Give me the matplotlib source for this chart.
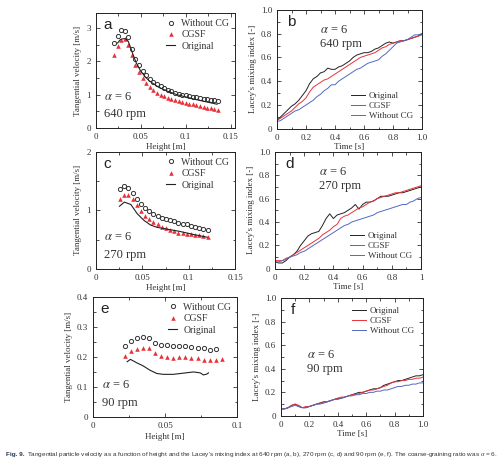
import numpy as np
import matplotlib
matplotlib.use('Agg')
import matplotlib.pyplot as plt
from matplotlib.ticker import MultipleLocator

plt.rcParams['font.family'] = ['Liberation Serif', 'DejaVu Serif']
plt.rcParams['mathtext.fontset'] = 'stix'

TXT = '#333333'
RED = '#e8323a'
BLUE = '#5468c0'
BLK = '#222222'

# ---- tangential velocity, 640 rpm (a)
h_a = [0.020, 0.024, 0.028, 0.032, 0.036, 0.040, 0.044, 0.048, 0.052, 0.056,
       0.060, 0.064, 0.068, 0.072, 0.076, 0.080, 0.084, 0.088, 0.092, 0.096,
       0.100, 0.104, 0.108, 0.112, 0.116, 0.120, 0.124, 0.128, 0.132, 0.136]
wocg_a = [2.55, 2.76, 2.94, 2.90, 2.72, 2.38, 2.08, 1.88, 1.72, 1.58,
          1.47, 1.38, 1.31, 1.25, 1.19, 1.14, 1.10, 1.06, 1.03, 1.00,
          0.98, 0.96, 0.94, 0.92, 0.90, 0.88, 0.86, 0.85, 0.83, 0.82]
cgsf_a = [2.20, 2.45, 2.65, 2.67, 2.50, 2.20, 1.90, 1.68, 1.50, 1.36,
          1.24, 1.14, 1.06, 1.00, 0.95, 0.91, 0.87, 0.84, 0.81, 0.78,
          0.76, 0.73, 0.71, 0.68, 0.66, 0.64, 0.61, 0.59, 0.56, 0.54]
h_orig_a = [0.024, 0.027, 0.030, 0.033, 0.036, 0.039, 0.042, 0.045, 0.050, 0.055,
            0.060, 0.070, 0.080, 0.090, 0.100, 0.110, 0.120, 0.135]
orig_a = [2.55, 2.65, 2.68, 2.68, 2.60, 2.38, 2.15, 1.95, 1.70, 1.53,
          1.40, 1.22, 1.10, 1.00, 0.93, 0.86, 0.80, 0.71]

# ---- tangential velocity, 270 rpm (c)
h_c = [0.0260, 0.0305, 0.0350, 0.0395, 0.0440, 0.0485, 0.0530, 0.0575, 0.0620, 0.0665, 0.0710,
       0.0755, 0.0800, 0.0845, 0.0890, 0.0935, 0.0980, 0.1025, 0.1070, 0.1115, 0.1160, 0.1205]
wocg_c = [1.36, 1.41, 1.38, 1.30, 1.19, 1.11, 1.04, 0.99, 0.94, 0.90, 0.87,
          0.85, 0.83, 0.81, 0.79, 0.77, 0.76, 0.74, 0.72, 0.70, 0.68, 0.67]
cgsf_c = [1.20, 1.27, 1.26, 1.19, 1.09, 0.99, 0.91, 0.85, 0.80, 0.76, 0.72,
          0.69, 0.66, 0.64, 0.62, 0.61, 0.60, 0.59, 0.58, 0.57, 0.56, 0.54]
h_orig_c = [0.0253, 0.0306, 0.0376, 0.0446, 0.0516, 0.0587, 0.0657, 0.0762, 0.0903, 0.1043, 0.1201]
orig_c = [1.07, 1.14, 1.10, 0.94, 0.83, 0.75, 0.71, 0.68, 0.64, 0.59, 0.54]

# ---- tangential velocity, 90 rpm (e)
h_e = [0.0222, 0.0264, 0.0306, 0.0348, 0.0390, 0.0432, 0.0474, 0.0516, 0.0558,
       0.0600, 0.0642, 0.0684, 0.0726, 0.0768, 0.0810, 0.0852, 0.0894]
wocg_e = [0.235, 0.254, 0.263, 0.265, 0.264, 0.248, 0.241, 0.239, 0.236,
          0.235, 0.235, 0.232, 0.231, 0.229, 0.223, 0.225]
cgsf_e = [0.203, 0.220, 0.226, 0.230, 0.230, 0.213, 0.203, 0.200, 0.198,
          0.199, 0.199, 0.198, 0.198, 0.191, 0.189, 0.189, 0.192]
h_orig_e = [0.0237, 0.0260, 0.0302, 0.0349, 0.0395, 0.0442, 0.0488, 0.0558,
            0.0628, 0.0698, 0.0744, 0.0767, 0.0791, 0.0802]
orig_e = [0.184, 0.192, 0.181, 0.170, 0.156, 0.145, 0.142, 0.142,
          0.146, 0.150, 0.147, 0.140, 0.143, 0.147]

# ---- Lacey's mixing index
t = [0.0, 0.025, 0.05, 0.075, 0.1, 0.125, 0.15, 0.175, 0.2, 0.225, 0.25, 0.275, 0.3, 0.325,
     0.35, 0.375, 0.4, 0.425, 0.45, 0.475, 0.5, 0.525, 0.55, 0.575, 0.6, 0.625, 0.65, 0.675,
     0.7, 0.725, 0.75, 0.775, 0.8, 0.825, 0.85, 0.875, 0.9, 0.925, 0.95, 0.975, 1.0]
b_orig = [0.07, 0.10, 0.13, 0.16, 0.19, 0.21, 0.24, 0.28, 0.32, 0.38, 0.42, 0.44, 0.47, 0.48,
          0.51, 0.50, 0.50, 0.52, 0.53, 0.55, 0.57, 0.60, 0.62, 0.63, 0.64, 0.64, 0.65, 0.67,
          0.68, 0.70, 0.72, 0.73, 0.72, 0.73, 0.74, 0.74, 0.75, 0.76, 0.77, 0.78, 0.80]
b_cgsf = [0.07, 0.09, 0.11, 0.13, 0.15, 0.18, 0.21, 0.23, 0.26, 0.31, 0.35, 0.37, 0.39, 0.41,
          0.42, 0.44, 0.46, 0.48, 0.50, 0.52, 0.54, 0.56, 0.58, 0.60, 0.61, 0.62, 0.63, 0.64,
          0.66, 0.68, 0.69, 0.71, 0.72, 0.73, 0.74, 0.74, 0.75, 0.76, 0.77, 0.78, 0.79]
b_wocg = [0.06, 0.07, 0.09, 0.11, 0.13, 0.15, 0.16, 0.18, 0.20, 0.22, 0.24, 0.27, 0.29, 0.32,
          0.34, 0.37, 0.37, 0.40, 0.42, 0.44, 0.46, 0.48, 0.50, 0.51, 0.53, 0.55, 0.56, 0.57,
          0.58, 0.61, 0.63, 0.66, 0.69, 0.72, 0.73, 0.74, 0.75, 0.77, 0.79, 0.79, 0.80]
d_orig = [0.06, 0.05, 0.05, 0.07, 0.10, 0.12, 0.15, 0.20, 0.24, 0.28, 0.30, 0.31, 0.32, 0.37,
          0.43, 0.47, 0.43, 0.46, 0.47, 0.48, 0.50, 0.52, 0.55, 0.51, 0.55, 0.57, 0.57, 0.58,
          0.60, 0.62, 0.62, 0.62, 0.63, 0.64, 0.65, 0.65, 0.66, 0.67, 0.68, 0.69, 0.70]
d_cgsf = [0.07, 0.07, 0.07, 0.09, 0.10, 0.12, 0.14, 0.16, 0.18, 0.20, 0.22, 0.24, 0.26, 0.29,
          0.31, 0.33, 0.36, 0.38, 0.43, 0.45, 0.46, 0.48, 0.50, 0.52, 0.53, 0.55, 0.57, 0.58,
          0.60, 0.61, 0.62, 0.63, 0.64, 0.65, 0.65, 0.66, 0.67, 0.68, 0.69, 0.70, 0.71]
d_wocg = [0.06, 0.06, 0.07, 0.08, 0.10, 0.11, 0.12, 0.14, 0.15, 0.17, 0.19, 0.21, 0.23, 0.25,
          0.27, 0.29, 0.31, 0.33, 0.35, 0.37, 0.38, 0.40, 0.41, 0.42, 0.43, 0.44, 0.45, 0.46,
          0.48, 0.49, 0.50, 0.51, 0.52, 0.53, 0.54, 0.55, 0.55, 0.57, 0.58, 0.60, 0.61]
f_orig = [0.06, 0.06, 0.07, 0.09, 0.10, 0.08, 0.07, 0.07, 0.08, 0.09, 0.10, 0.11, 0.12, 0.12,
          0.13, 0.14, 0.15, 0.15, 0.16, 0.17, 0.18, 0.19, 0.20, 0.20, 0.21, 0.22, 0.23, 0.23,
          0.24, 0.26, 0.27, 0.28, 0.29, 0.30, 0.30, 0.31, 0.32, 0.33, 0.34, 0.34, 0.35]
f_cgsf = [0.06, 0.06, 0.07, 0.09, 0.10, 0.09, 0.07, 0.08, 0.08, 0.09, 0.10, 0.11, 0.11, 0.12,
          0.13, 0.14, 0.15, 0.16, 0.16, 0.17, 0.18, 0.18, 0.19, 0.20, 0.21, 0.22, 0.22, 0.23,
          0.24, 0.25, 0.26, 0.28, 0.29, 0.29, 0.30, 0.30, 0.31, 0.31, 0.32, 0.32, 0.33]
f_wocg = [0.06, 0.06, 0.07, 0.08, 0.09, 0.08, 0.07, 0.07, 0.08, 0.09, 0.10, 0.10, 0.11, 0.12,
          0.13, 0.14, 0.14, 0.15, 0.16, 0.17, 0.17, 0.18, 0.18, 0.19, 0.19, 0.20, 0.20, 0.21,
          0.21, 0.22, 0.22, 0.23, 0.24, 0.25, 0.25, 0.26, 0.26, 0.27, 0.27, 0.28, 0.28]

mix_ticks = [0, 0.2, 0.4, 0.6, 0.8, 1.0]
mix_labels = ['0', '0.2', '0.4', '0.6', '0.8', '1.0']


def style(ax, xmin, ymin):
  ax.xaxis.set_minor_locator(MultipleLocator(xmin))
  ax.yaxis.set_minor_locator(MultipleLocator(ymin))
  ax.tick_params(which='both', direction='in', top=True, right=True,
                 labelsize=6.5, colors=TXT, width=0.6)
  ax.tick_params(which='major', length=3)
  ax.tick_params(which='minor', length=1.8)
  for s in ax.spines.values():
    s.set_linewidth(0.7)
    s.set_color(BLK)


def vel_panel(ax, h, wocg, cgsf, ho, orig, letter, rpm):
  ax.plot(h[:len(wocg)], wocg, 'o', mfc='none', mec='#333333', ms=3.0, mew=0.7,
          label='Without CG')
  ax.plot(h[:len(cgsf)], cgsf, '^', color=RED, ms=3.3, mew=0, label='CGSF')
  ax.plot(ho, orig, '-', color=BLK, lw=0.8, label='Original')
  ax.legend(loc='upper right', frameon=False, fontsize=7, handlelength=1.0,
            handletextpad=0.6, labelspacing=0.25, borderaxespad=0.2,
            labelcolor=TXT)
  ax.text(0.05, 0.90, letter, transform=ax.transAxes, fontsize=11,
          family=['Liberation Sans', 'DejaVu Sans'], color=BLK, va='center')
  ax.text(0.06, 0.27, r'$\alpha$ = 6', transform=ax.transAxes, fontsize=9,
          color=TXT, va='center')
  ax.text(0.06, 0.12, rpm, transform=ax.transAxes, fontsize=9, color=TXT,
          va='center')
  ax.set_xlabel('Height [m]', fontsize=6.5, color=TXT, labelpad=2)
  ax.set_ylabel('Tangential velocity [m/s]', fontsize=6.5, color=TXT, labelpad=3)


def mix_panel(ax, o, c, w, letter, rpm, leg_loc, txt_x, txt_y, xlabels):
  ax.plot(t, o, color=BLK, lw=0.7, label='Original')
  ax.plot(t, c, color=RED, lw=0.7, label='CGSF')
  ax.plot(t, w, color=BLUE, lw=0.7, label='Without CG')
  ax.set_xlim(0, 1)
  ax.set_ylim(0, 1)
  ax.set_xticks(mix_ticks)
  ax.set_xticklabels(xlabels)
  ax.set_yticks(mix_ticks)
  ax.set_yticklabels(mix_labels)
  style(ax, 0.1, 0.1)
  ax.legend(loc=leg_loc, frameon=False, fontsize=6.5, handlelength=1.6,
            handletextpad=0.4, labelspacing=0.15, borderaxespad=0.6,
            labelcolor=TXT)
  ax.text(0.07, 0.90, letter, transform=ax.transAxes, fontsize=11,
          family=['Liberation Sans', 'DejaVu Sans'], color=BLK, va='center')
  ax.text(txt_x, txt_y, r'$\alpha$ = 6', transform=ax.transAxes,
          fontsize=9, color=TXT, va='center')
  ax.text(txt_x, txt_y - 0.12, rpm, transform=ax.transAxes,
          fontsize=9, color=TXT, va='center')
  ax.set_xlabel('Time [s]', fontsize=6.5, color=TXT, labelpad=1)
  ax.set_ylabel("Lacey's mixing index [-]", fontsize=6.5, color=TXT, labelpad=3)


fig = plt.figure(figsize=(5, 4.7), dpi=100)

ax_a = fig.add_axes([0.192, 0.728, 0.278, 0.244])
vel_panel(ax_a, h_a, wocg_a, cgsf_a, h_orig_a, orig_a, 'a', '640 rpm')
ax_a.set_xlim(0, 0.155)
ax_a.set_ylim(0, 3.45)
ax_a.set_xticks([0, 0.05, 0.1, 0.15])
ax_a.set_xticklabels(['0', '0.05', '0.1', '0.15'])
ax_a.set_yticks([0, 1, 2, 3])
style(ax_a, 0.025, 0.5)

ax_b = fig.add_axes([0.554, 0.726, 0.290, 0.253])
mix_panel(ax_b, b_orig, b_cgsf, b_wocg, 'b', '640 rpm', 'lower right', 0.30, 0.83, mix_labels)

ax_c = fig.add_axes([0.192, 0.428, 0.278, 0.249])
vel_panel(ax_c, h_c, wocg_c, cgsf_c, h_orig_c, orig_c, 'c', '270 rpm')
ax_c.set_xlim(0, 0.15)
ax_c.set_ylim(0, 2)
ax_c.set_xticks([0, 0.05, 0.1, 0.15])
ax_c.set_xticklabels(['0', '0.05', '0.1', '0.15'])
ax_c.set_yticks([0, 1, 2])
style(ax_c, 0.025, 0.5)

ax_d = fig.add_axes([0.550, 0.428, 0.292, 0.249])
mix_panel(ax_d, d_orig, d_cgsf, d_wocg, 'd', '270 rpm', 'lower right', 0.30, 0.83,
          ['0', '0.2', '0.4', '0.6', '0.8', '1'])

ax_e = fig.add_axes([0.186, 0.113, 0.288, 0.255])
vel_panel(ax_e, h_e, wocg_e, cgsf_e, h_orig_e, orig_e, 'e', '90 rpm')
ax_e.set_xlim(0, 0.1)
ax_e.set_ylim(0, 0.4)
ax_e.set_xticks([0, 0.05, 0.1])
ax_e.set_xticklabels(['0', '0.05', '0.1'])
ax_e.set_yticks([0, 0.1, 0.2, 0.3, 0.4])
ax_e.set_yticklabels(['0', '0.1', '0.2', '0.3', '0.4'])
style(ax_e, 0.025, 0.05)

ax_f = fig.add_axes([0.562, 0.115, 0.284, 0.251])
mix_panel(ax_f, f_orig, f_cgsf, f_wocg, 'f', '90 rpm', 'upper right', 0.18, 0.52, mix_labels)

# caption
cap_font = ['Liberation Sans', 'DejaVu Sans']
t1 = fig.text(0.012, 0.032, 'Fig. 9.', fontsize=4.6, fontweight='bold',
              family=cap_font, color='#2b3550', va='center')
r = fig.canvas.get_renderer()
bb = t1.get_window_extent(renderer=r)
fig.text(bb.x1 / fig.bbox.width + 0.004, 0.032,
         "Tangential particle velocity as a function of height and the Lacey's mixing index "
         "at 640 rpm (a, b), 270 rpm (c, d) and 90 rpm (e, f). The coarse-graining ratio was "
         r"$\alpha$ = 6.", fontsize=4.6, family=cap_font, color='#333333', va='center')

fig.savefig('out.png', dpi=100)
